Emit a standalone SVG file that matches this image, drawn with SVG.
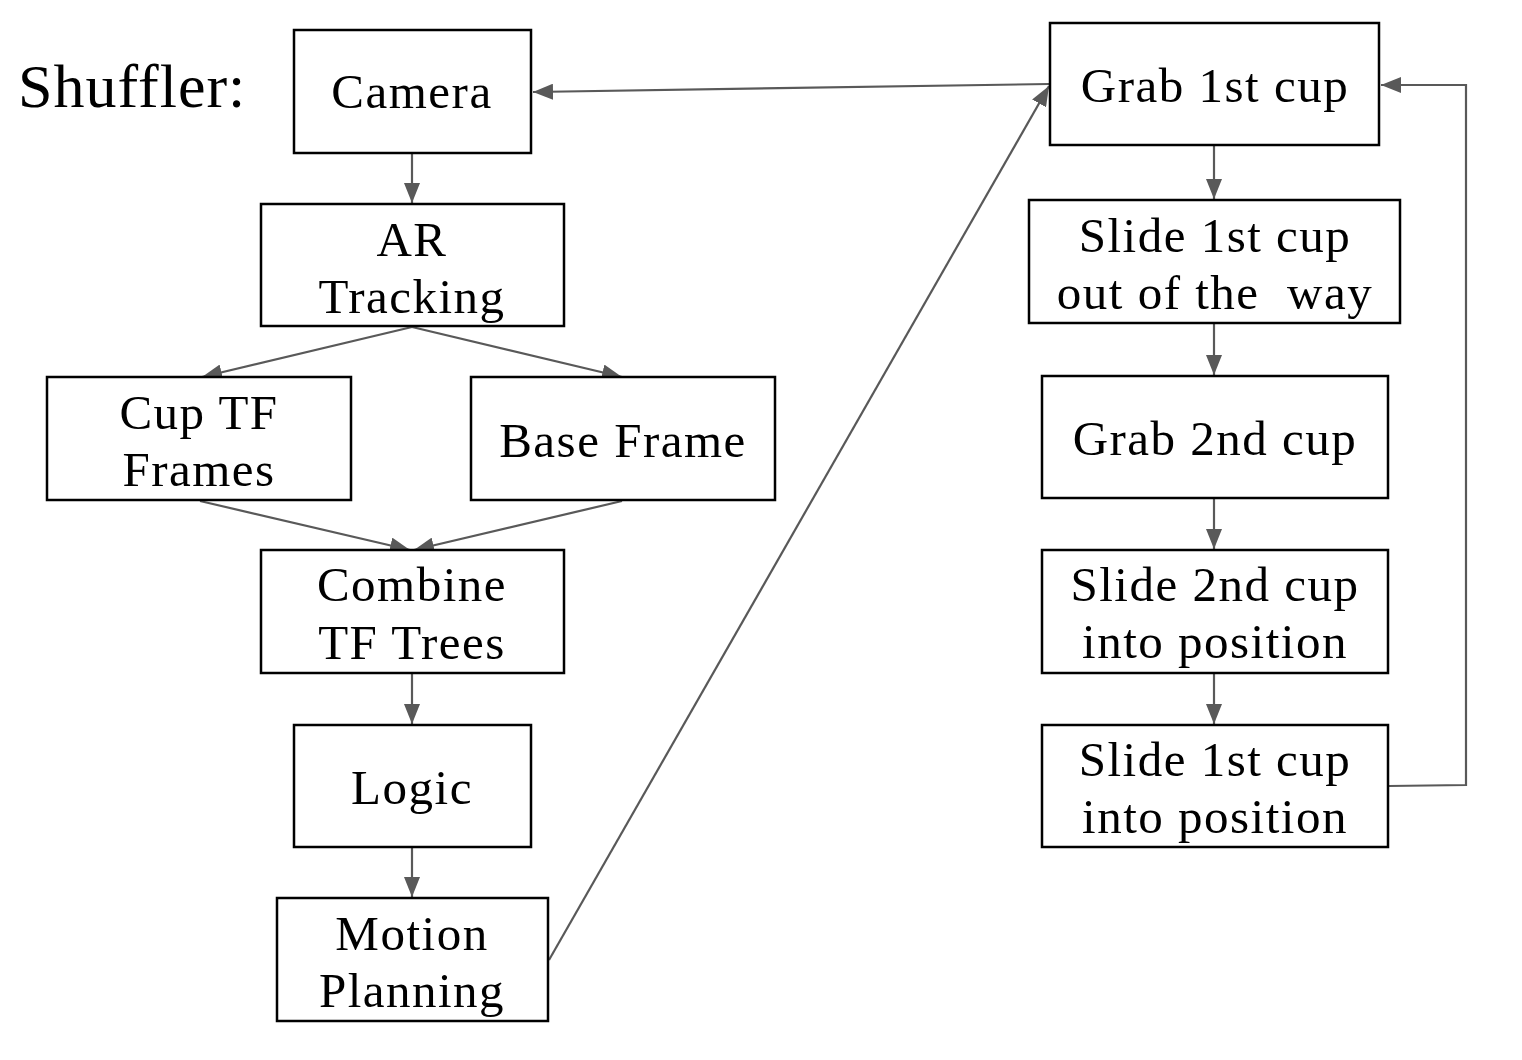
<svg xmlns="http://www.w3.org/2000/svg" width="1522" height="1060" viewBox="0 0 1522 1060">
<style>
.box{fill:#fff;stroke:#000;stroke-width:2.5}
.t{font-family:"Liberation Serif","DejaVu Serif",serif;font-size:49px;letter-spacing:1.5px;fill:#000;text-anchor:middle}
.c{fill:none;stroke:#595959;stroke-width:2.2}
</style>
<defs>
<marker id="a" viewBox="0 0 20 16" refX="20" refY="8" markerWidth="20" markerHeight="16" orient="auto" markerUnits="userSpaceOnUse">
<path d="M0,0 L20,8 L0,16 z" fill="#595959"/>
</marker>
</defs>
<rect width="1522" height="1060" fill="#fff"/>
<text x="18" y="107" font-family="Liberation Serif, DejaVu Serif, serif" font-size="62" letter-spacing="1" fill="#000">Shuffler:</text>
<g id="connectors">
<line class="c" x1="412" y1="154" x2="412" y2="203" marker-end="url(#a)"/>
<line class="c" x1="412" y1="327" x2="202" y2="377" marker-end="url(#a)"/>
<line class="c" x1="412" y1="327" x2="622" y2="377" marker-end="url(#a)"/>
<line class="c" x1="200" y1="501" x2="410" y2="550" marker-end="url(#a)"/>
<line class="c" x1="622" y1="501" x2="414" y2="550" marker-end="url(#a)"/>
<line class="c" x1="412" y1="674" x2="412" y2="724" marker-end="url(#a)"/>
<line class="c" x1="412" y1="848" x2="412" y2="897" marker-end="url(#a)"/>
<line class="c" x1="549" y1="960" x2="1049" y2="86" marker-end="url(#a)"/>
<line class="c" x1="1049" y1="84" x2="533" y2="92" marker-end="url(#a)"/>
<line class="c" x1="1214" y1="146" x2="1214" y2="199" marker-end="url(#a)"/>
<line class="c" x1="1214" y1="324" x2="1214" y2="375" marker-end="url(#a)"/>
<line class="c" x1="1214" y1="499" x2="1214" y2="549" marker-end="url(#a)"/>
<line class="c" x1="1214" y1="674" x2="1214" y2="724" marker-end="url(#a)"/>
<polyline class="c" points="1389,786 1466,785 1466,85 1381,85" marker-end="url(#a)"/>
</g>
<g id="camera"><rect class="box" x="294" y="30" width="237" height="123"/><text class="t" x="412" y="108">Camera</text></g>
<g id="ar"><rect class="box" x="261" y="204" width="303" height="122"/><text class="t" x="412" y="256">AR</text><text class="t" x="412" y="313">Tracking</text></g>
<g id="cuptf"><rect class="box" x="47" y="377" width="304" height="123"/><text class="t" x="199" y="429">Cup TF</text><text class="t" x="199" y="486">Frames</text></g>
<g id="base"><rect class="box" x="471" y="377" width="304" height="123"/><text class="t" x="623" y="457">Base Frame</text></g>
<g id="combine"><rect class="box" x="261" y="550" width="303" height="123"/><text class="t" x="412" y="601">Combine</text><text class="t" x="412" y="659">TF Trees</text></g>
<g id="logic"><rect class="box" x="294" y="725" width="237" height="122"/><text class="t" x="412" y="804">Logic</text></g>
<g id="motion"><rect class="box" x="277" y="898" width="271" height="123"/><text class="t" x="412" y="950">Motion</text><text class="t" x="412" y="1007">Planning</text></g>
<g id="grab1"><rect class="box" x="1050" y="23" width="329" height="122"/><text class="t" x="1215" y="102">Grab 1st cup</text></g>
<g id="slide1out"><rect class="box" x="1029" y="200" width="371" height="123"/><text class="t" x="1215" y="252">Slide 1st cup</text><text class="t" x="1215" y="309" xml:space="preserve">out of the  way</text></g>
<g id="grab2"><rect class="box" x="1042" y="376" width="346" height="122"/><text class="t" x="1215" y="455">Grab 2nd cup</text></g>
<g id="slide2"><rect class="box" x="1042" y="550" width="346" height="123"/><text class="t" x="1215" y="601">Slide 2nd cup</text><text class="t" x="1215" y="658">into position</text></g>
<g id="slide1pos"><rect class="box" x="1042" y="725" width="346" height="122"/><text class="t" x="1215" y="776">Slide 1st cup</text><text class="t" x="1215" y="833">into position</text></g>
</svg>
